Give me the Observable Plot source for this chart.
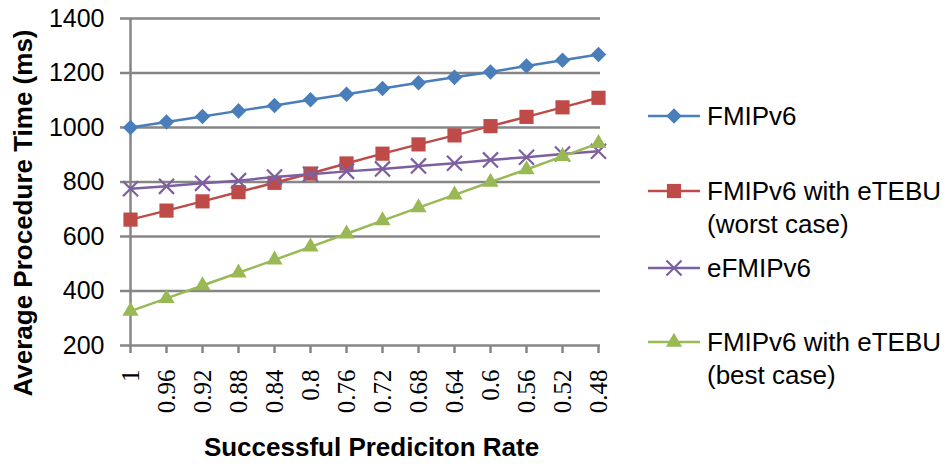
<!DOCTYPE html>
<html>
<head>
<meta charset="utf-8">
<script src="https://cdn.jsdelivr.net/npm/d3@7"></script>
<script src="https://cdn.jsdelivr.net/npm/@observablehq/plot@0.6"></script>
<style>
  html, body { margin: 0; padding: 0; background: #fff; }
  #chart svg { display: block; }
</style>
</head>
<body>
<div id="chart"></div>
<script>
// Successful prediction rate (categories, left to right)
const rates = ["1", "0.96", "0.92", "0.88", "0.84", "0.8", "0.76", "0.72", "0.68", "0.64", "0.6", "0.56", "0.52", "0.48"];

// Average procedure time (ms) per series
const fmipv6     = [1000, 1020, 1040, 1061, 1081, 1102, 1122, 1143, 1164, 1184, 1204, 1226, 1247, 1268];
const worstCase  = [662, 695, 729, 763, 797, 831, 868, 904, 938, 971, 1005, 1039, 1074, 1109];
const efmipv6    = [775, 784, 795, 805, 818, 828, 839, 848, 859, 869, 881, 891, 903, 913];
const bestCase   = [326, 373, 420, 467, 514, 562, 610, 658, 706, 753, 800, 846, 894, 942];

const yTicks = [200, 400, 600, 800, 1000, 1200, 1400];

const seriesKeys = ["FMIPv6", "FMIPv6 with eTEBU (worst case)", "eFMIPv6", "FMIPv6 with eTEBU (best case)"];
const legendLines = [["FMIPv6"], ["FMIPv6 with eTEBU", "(worst case)"], ["eFMIPv6"], ["FMIPv6 with eTEBU", "(best case)"]];
const seriesValues = [fmipv6, worstCase, efmipv6, bestCase];
const seriesColors = ["#4A7EBB", "#BE4B48", "#7D60A0", "#98B954"];
const seriesSymbols = ["diamond2", "square", "times", "triangle"];
const symbolRadius = [7, 8, 6.9, 6];

const rows = seriesKeys.flatMap((s, i) =>
  rates.map((r, j) => ({series: s, rate: r, value: seriesValues[i][j]}))
);

const grid = "#868686";

const seriesMarks = seriesKeys.flatMap((s, i) => {
  const d = rows.filter(r => r.series === s);
  const stroked = seriesSymbols[i] === "times";
  return [
    Plot.line(d, {x: "rate", y: "value", stroke: seriesColors[i], strokeWidth: 2.5}),
    Plot.dot(d, {
      x: "rate", y: "value", symbol: () => seriesSymbols[i], r: symbolRadius[i],
      fill: stroked ? "none" : seriesColors[i],
      stroke: stroked ? seriesColors[i] : "none",
      strokeWidth: stroked ? 2.2 : 0
    })
  ];
});

const chart = Plot.plot({
  width: 950,
  height: 466,
  marginLeft: 128,
  marginRight: 350,
  marginTop: 18,
  marginBottom: 121,
  style: {fontFamily: "'Liberation Sans', Arial, sans-serif", background: "#fff", color: "#000"},
  x: {type: "point", domain: rates, padding: 0},
  y: {domain: [200, 1400]},
  symbol: {type: "identity"},
  marks: [
    Plot.ruleY(yTicks, {stroke: grid, strokeWidth: 2.5}),
    Plot.ruleX([rates[0]], {stroke: grid, strokeWidth: 2.5}),
    Plot.axisY(yTicks, {
      tickSize: 8, tickPadding: 16, fontSize: 25, strokeWidth: 2.5,
      color: "#000", stroke: grid, label: null, tickFormat: d => String(d)
    }),
    Plot.axisX({
      tickSize: 8, tickPadding: 16, tickRotate: -90, fontSize: 25,
      fontFamily: "'Liberation Serif', 'Times New Roman', serif",
      color: "#000", stroke: grid, strokeWidth: 2.5, label: null
    }),
    ...seriesMarks,
    Plot.text(["Average Procedure Time (ms)"], {
      text: d => d, frameAnchor: "left", textAnchor: "middle", lineAnchor: "middle",
      rotate: -90, dx: -105, dy: 31, fontSize: 26, fontWeight: "bold"
    }),
    Plot.text(["Successful Prediciton Rate"], {
      text: d => d, frameAnchor: "bottom", textAnchor: "middle", lineAnchor: "middle",
      dx: 7, dy: 102, fontSize: 26, fontWeight: "bold"
    })
  ]
});

// Legend drawn into the right margin of the same SVG
const svg = d3.select(chart);
const legend = svg.append("g")
  .attr("font-family", "'Liberation Sans', Arial, sans-serif")
  .attr("font-size", 26)
  .attr("text-anchor", "start");
const legendRowY = [116, 191, 268, 342];
const d3Symbols = {diamond2: d3.symbolDiamond2, square: d3.symbolSquare, times: d3.symbolTimes, triangle: d3.symbolTriangle};
seriesKeys.forEach((s, i) => {
  const g = legend.append("g").attr("transform", `translate(0,${legendRowY[i]})`);
  g.append("line").attr("x1", 648).attr("x2", 700).attr("y1", 0).attr("y2", 0)
    .attr("stroke", seriesColors[i]).attr("stroke-width", 2.5);
  const stroked = seriesSymbols[i] === "times";
  g.append("path")
    .attr("transform", "translate(674,0)")
    .attr("d", d3.symbol(d3Symbols[seriesSymbols[i]], Math.PI * symbolRadius[i] ** 2)())
    .attr("fill", stroked ? "none" : seriesColors[i])
    .attr("stroke", stroked ? seriesColors[i] : "none")
    .attr("stroke-width", stroked ? 2.2 : 0);
  legendLines[i].forEach((t, k) => {
    g.append("text").attr("x", 707).attr("y", 9 + k * 33).attr("fill", "#000").text(t);
  });
});

document.getElementById("chart").appendChild(chart);
</script>
</body>
</html>
